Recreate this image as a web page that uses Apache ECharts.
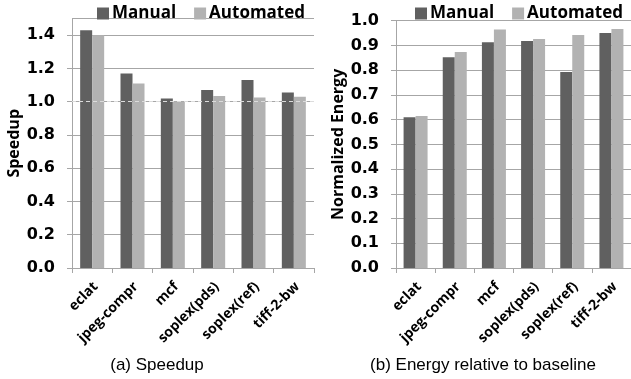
<!DOCTYPE html>
<html>
<head>
<meta charset="utf-8">
<script src="https://cdn.jsdelivr.net/npm/echarts@6/dist/echarts.min.js"></script>
<style>
  html, body { margin: 0; padding: 0; background: #fff; }
  #chart { width: 631px; height: 379px; }
</style>
</head>
<body>
<div id="chart"></div>
<script>
// Benchmarks on the x axis of both panels
const categories = ['eclat', 'jpeg-compr', 'mcf', 'soplex(pds)', 'soplex(ref)', 'tiff-2-bw'];

// Panel (a): speedup over baseline
const speedupManual    = [1.43, 1.17, 1.02, 1.07, 1.13, 1.055];
const speedupAutomated = [1.40, 1.11, 1.00, 1.035, 1.025, 1.03];

// Panel (b): energy normalized to baseline
const energyManual    = [0.61, 0.852, 0.913, 0.918, 0.793, 0.95];
const energyAutomated = [0.615, 0.873, 0.964, 0.926, 0.942, 0.966];

// Tick labels
const speedupTicks = ['0.0', '0.2', '0.4', '0.6', '0.8', '1.0', '1.2', '1.4'];
const energyTicks  = ['0.0', '0.1', '0.2', '0.3', '0.4', '0.5', '0.6', '0.7', '0.8', '0.9', '1.0'];

const DARK = '#606060';
const LIGHT = '#b2b2b2';
const GRID = '#a6a6a6';
const BOLD = '"Open Sans", sans-serif';
const WIDE_BOLD = '"DejaVu Sans", sans-serif';

const chart = echarts.init(document.getElementById('chart'), null, { renderer: 'canvas' });

function xAxisFor(gridIndex) {
  return {
    type: 'category',
    gridIndex,
    data: categories,
    axisLine: { lineStyle: { color: GRID, width: 1 } },
    axisTick: { show: true, length: 5, lineStyle: { color: GRID } },
    axisLabel: {
      rotate: 45,
      margin: 20,
      padding: [0, -5, 0, 0],
      interval: 0,
      color: '#000',
      fontFamily: BOLD,
      fontWeight: 'bold',
      fontSize: 14
    }
  };
}

function yAxisFor(gridIndex, max, interval, name, ticks) {
  return {
    type: 'value',
    gridIndex,
    min: 0,
    max,
    interval,
    name,
    nameLocation: 'middle',
    nameGap: 48,
    nameTextStyle: { color: '#000', fontFamily: BOLD, fontWeight: 'bold', fontSize: 16 },
    axisLine: { show: true, lineStyle: { color: GRID, width: 1 } },
    axisTick: { show: true, length: 5, lineStyle: { color: GRID } },
    splitLine: { show: true, lineStyle: { color: GRID, width: 1 } },
    axisLabel: {
      showMaxLabel: max === 1,
      margin: 17,
      color: '#000',
      fontFamily: WIDE_BOLD,
      fontWeight: 'bold',
      fontSize: 16,
      formatter: v => {
        const i = Math.round(v / interval);
        return Math.abs(i * interval - v) < 1e-6 && ticks[i] !== undefined ? ticks[i] : '';
      }
    }
  };
}

function barSeries(name, data, color, axisIndex, extra) {
  return Object.assign({
    name,
    type: 'bar',
    xAxisIndex: axisIndex,
    yAxisIndex: axisIndex,
    data,
    barWidth: 12,
    barGap: '0%',
    itemStyle: { color },
    emphasis: { disabled: true },
    animation: false
  }, extra || {});
}

const legendBase = {
  itemWidth: 12,
  itemHeight: 12,
  itemGap: 18,
  icon: 'rect',
  textStyle: { color: '#000', fontFamily: BOLD, fontWeight: 'bold', fontSize: 17, padding: [0, 0, 0, -2] },
  data: ['Manual', 'Automated']
};

chart.setOption({
  backgroundColor: '#fff',
  animation: false,
  legend: [
    Object.assign({}, legendBase, { left: 92, top: 0 }),
    Object.assign({}, legendBase, { left: 410, top: 0 })
  ],
  grid: [
    { left: 72, top: 18.6, width: 242, height: 249.4, containLabel: false },
    { left: 396, top: 20.7, width: 240, height: 247.3, containLabel: false }
  ],
  xAxis: [xAxisFor(0), xAxisFor(1)],
  yAxis: [
    yAxisFor(0, 1.5, 0.2, 'Speedup', speedupTicks),
    yAxisFor(1, 1.0, 0.1, 'Normalized Energy', energyTicks)
  ],
  series: [
    barSeries('Manual', speedupManual, DARK, 0),
    barSeries('Automated', speedupAutomated, LIGHT, 0, {
      markLine: {
        silent: true,
        symbol: 'none',
        z: 10,
        label: { show: false },
        lineStyle: { color: '#dcdcdc', type: [4, 3], width: 1.2 },
        data: [{ yAxis: 1.0 }]
      }
    }),
    barSeries('Manual', energyManual, DARK, 1),
    barSeries('Automated', energyAutomated, LIGHT, 1)
  ],
  graphic: [
    {
      type: 'text',
      x: 157, y: 357,
      style: { text: '(a) Speedup', align: 'center', fill: '#000',
               font: '17px "Liberation Sans", Arial, sans-serif' }
    },
    {
      type: 'text',
      x: 483, y: 357,
      style: { text: '(b) Energy relative to baseline', align: 'center', fill: '#000',
               font: '17px "Liberation Sans", Arial, sans-serif' }
    }
  ]
});
</script>
</body>
</html>
